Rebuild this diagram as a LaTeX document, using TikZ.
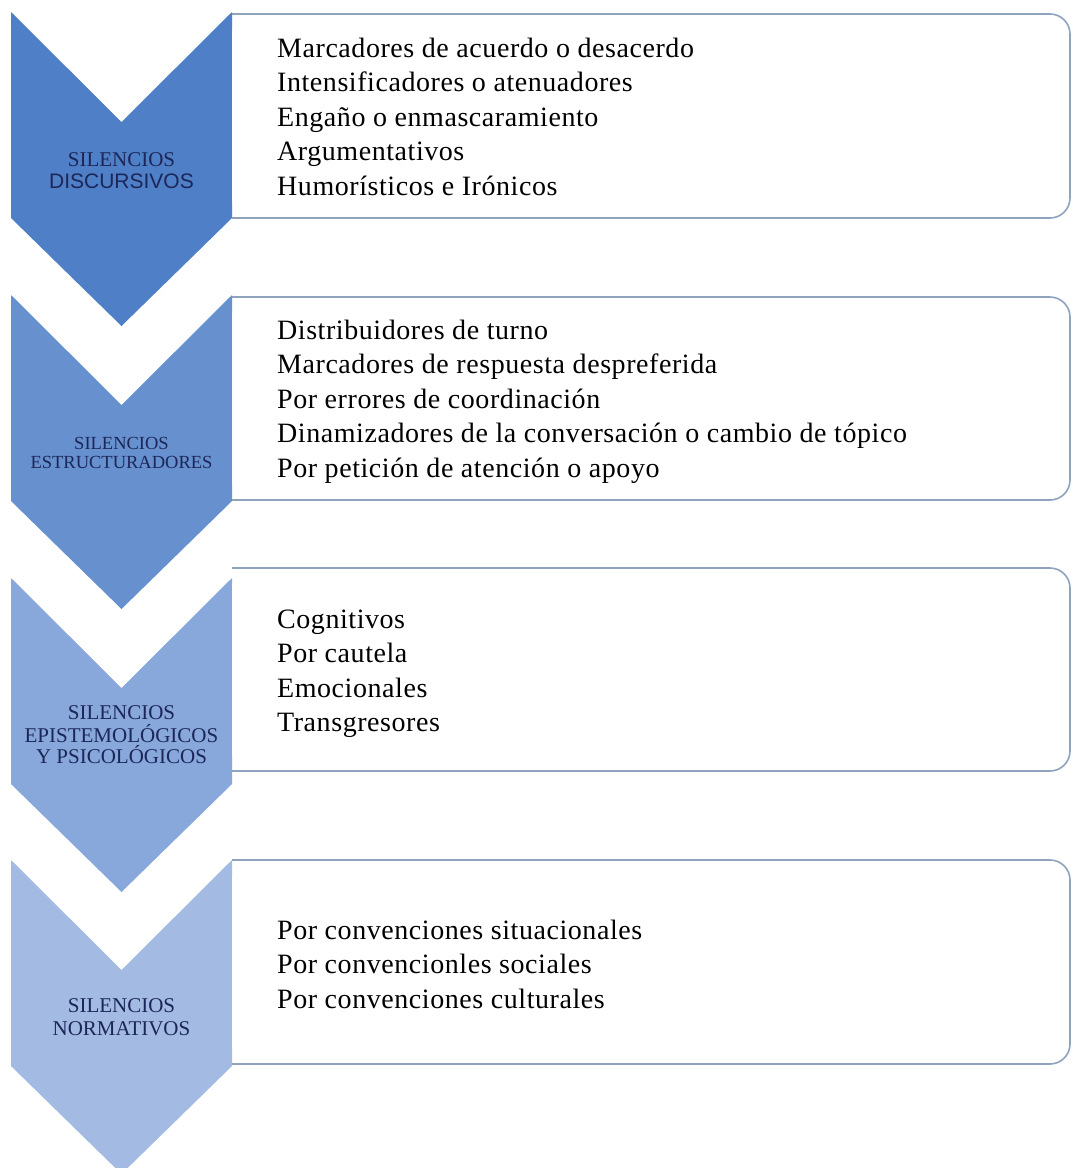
\documentclass[tikz,border=0pt]{standalone}
\usepackage{fontspec}
\setmainfont{Liberation Serif}
\newfontfamily\lsans{Liberation Sans}
\newfontfamily\itemfont[LetterSpace=2]{Liberation Serif}
\definecolor{cA}{HTML}{4F7FC6}
\definecolor{cB}{HTML}{6790CF}
\definecolor{cC}{HTML}{88A7DB}
\definecolor{cD}{HTML}{A3BBE3}
\definecolor{boxline}{HTML}{8FA3BF}
\definecolor{lbl}{HTML}{1C2759}
\begin{document}
\begin{tikzpicture}[x=1pt,y=-1pt,
  item/.style={anchor=base west,inner sep=0pt,font=\itemfont\fontsize{28}{30}\selectfont,text=black},
  lab/.style={inner sep=0pt,text=lbl,font=\fontsize{21}{23}\selectfont},
  boxedge/.style={draw=boxline,line width=1.6pt,rounded corners=20pt}]
\useasboundingbox (0,0) rectangle (1072,1168);
\fill[white] (0,0) rectangle (1072,1168);
% chevrons
\newcommand\mychev[2]{%
  \fill[#2] (11,#1) -- (121.5,#1+110) -- (232,#1) -- (232,#1+206) -- (121.5,#1+314) -- (11,#1+206) -- cycle;}
\mychev{12}{cA}
\mychev{295}{cB}
\mychev{578}{cC}
\mychev{860}{cD}
% boxes
\newcommand\mybox[2]{%
  \fill[white,rounded corners=20pt] (232,#1) -- (1070,#1) -- (1070,#2) -- (232,#2) -- cycle;
  \draw[boxedge] (232,#1) -- (1070,#1) -- (1070,#2) -- (232,#2);}
\mybox{14}{218}
\mybox{297}{500}
\mybox{568}{771}
\mybox{860}{1064}
% labels
\node[lab] (l1a) at (121.5,160) {SILENCIOS};
\node[lab,font=\lsans\fontsize{21}{23}\selectfont] (l1b) at (121.5,181) {DISCURSIVOS};
\node[lab,font=\fontsize{18.5}{20}\selectfont] (l2a) at (121.5,443) {SILENCIOS};
\node[lab,font=\fontsize{18.5}{20}\selectfont] (l2b) at (121.5,462) {ESTRUCTURADORES};
\node[lab] (l3a) at (121.5,713) {SILENCIOS};
\node[lab] (l3b) at (121.5,734) {EPISTEMOLÓGICOS};
\node[lab] (l3c) at (121.5,755) {Y PSICOLÓGICOS};
\node[lab] (l4a) at (121.5,1006) {SILENCIOS};
\node[lab] (l4b) at (121.5,1029) {NORMATIVOS};
% items
\foreach \t [count=\i] in {Marcadores de acuerdo o desacerdo,Intensificadores o atenuadores,Engaño o enmascaramiento,Argumentativos,Humorísticos e Irónicos}
  \node[item] (a\i) at (277,57+34.5*\i-34.5) {\t};
\foreach \t [count=\i] in {Distribuidores de turno,Marcadores de respuesta despreferida,Por errores de coordinación,Dinamizadores de la conversación o cambio de tópico,Por petición de atención o apoyo}
  \node[item] (b\i) at (277,339+34.5*\i-34.5) {\t};
\foreach \t [count=\i] in {Cognitivos,Por cautela,Emocionales,Transgresores}
  \node[item] (c\i) at (277,628+34.5*\i-34.5) {\t};
\foreach \t [count=\i] in {Por convenciones situacionales,Por convencionles sociales,Por convenciones culturales}
  \node[item] (d\i) at (277,939+34.5*\i-34.5) {\t};
\end{tikzpicture}
\end{document}
